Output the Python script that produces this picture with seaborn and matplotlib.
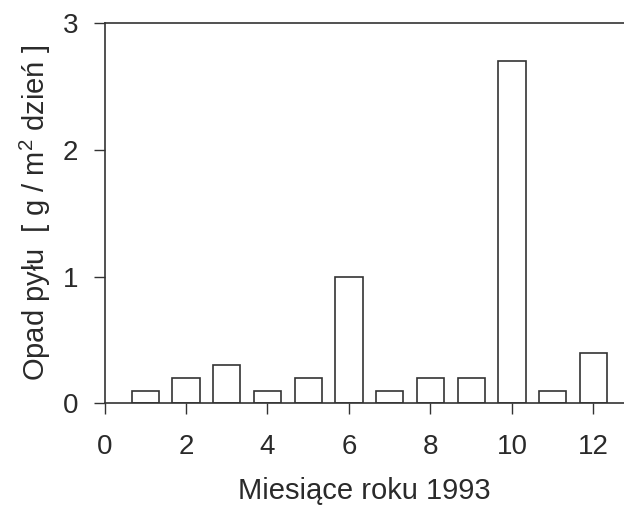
import matplotlib
matplotlib.use("Agg")
import matplotlib.pyplot as plt
import seaborn as sns
import pandas as pd

# Data
months = [1, 2, 3, 4, 5, 6, 7, 8, 9, 10, 11, 12]
dust_fall = [0.1, 0.2, 0.3, 0.1, 0.2, 1.0, 0.1, 0.2, 0.2, 2.7, 0.1, 0.4]
x_ticks = [0, 2, 4, 6, 8, 10, 12]
y_ticks = [0, 1, 2, 3]

sns.set_theme(style="white")
plt.rcParams["font.family"] = ["Liberation Sans", "DejaVu Sans"]
plt.rcParams["mathtext.fontset"] = "custom"
plt.rcParams["mathtext.rm"] = "Liberation Sans"
plt.rcParams["mathtext.it"] = "Liberation Sans:italic"
plt.rcParams["mathtext.bf"] = "Liberation Sans:bold"

line_col = "#333333"
text_col = "#2a2a2a"

df = pd.DataFrame({"month": months, "dust": dust_fall})

fig = plt.figure(figsize=(6.24, 5.09), dpi=100)
ax = fig.add_axes([0.1675, 0.2077, 1 - 0.1675, 0.9542 - 0.2077])

sns.barplot(data=df, x="month", y="dust", native_scale=True, width=0.67,
            color="white", saturation=1, edgecolor=line_col, linewidth=1.2,
            errorbar=None, ax=ax)

ax.set_xlim(0, 12.75)
ax.set_ylim(0, 3)
ax.set_xticks(x_ticks)
ax.set_yticks(y_ticks)
ax.set_xticklabels([str(t) for t in x_ticks])
ax.set_yticklabels([str(t) for t in y_ticks])

for side in ["left", "bottom", "top"]:
    ax.spines[side].set_visible(True)
    ax.spines[side].set_color(line_col)
    ax.spines[side].set_linewidth(1.2)
ax.spines["right"].set_visible(False)

ax.tick_params(axis="both", direction="out", length=8, width=1.0,
               color=line_col, labelsize=20, labelcolor=text_col)
ax.tick_params(axis="x", pad=14, bottom=True)
ax.tick_params(axis="y", pad=11, left=True)

ax.set_xlabel("Miesiące roku 1993", fontsize=21, color=text_col, labelpad=12)
ax.set_ylabel("Opad pyłu  [ g / m$^2$ dzień ]", fontsize=21, color=text_col, labelpad=7)

fig.savefig("out.png", dpi=100)
